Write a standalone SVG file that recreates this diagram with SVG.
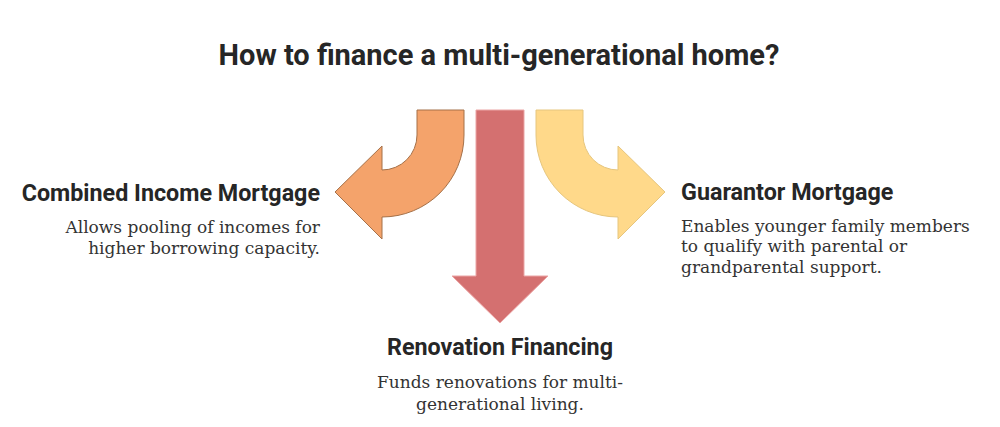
<svg xmlns="http://www.w3.org/2000/svg" width="1000" height="427" viewBox="0 0 1000 427">
<style>
.title{font-family:Roboto,"Liberation Sans",sans-serif;font-weight:700;font-size:29px;fill:#262626}
.h{font-family:Roboto,"Liberation Sans",sans-serif;font-weight:700;font-size:23.3px;fill:#262626}
.d{font-family:"DejaVu Serif","Liberation Serif",serif;font-size:17px;fill:#333333}
</style>
<rect width="1000" height="427" fill="#ffffff"/>
<text class="title" x="499" y="65" text-anchor="middle">How to finance a multi-generational home?</text>
<g id="connectors">
<path id="arrow-left" d="M464,110 L464,135 A82,82 0 0 1 382,217 L382,239 L335,192 L382,146 L382,170 A35,35 0 0 0 417,135 L417,110 Z" fill="#F4A36B" stroke="#A57149" stroke-width="1"/>
<path id="arrow-down" d="M476,110 L524,110 L524,276 L548,276 L500,323 L452,276 L476,276 Z" fill="#D47070" stroke="#EBA5A5" stroke-width="1"/>
<path id="arrow-right" d="M536,110 L536,135 A82,82 0 0 0 618,217 L618,239 L665,192 L618,146 L618,170 A35,35 0 0 1 583,135 L583,110 Z" fill="#FFD98A" stroke="#E6C67E" stroke-width="1"/>
</g>
<g id="node-combined">
<text class="h" x="320" y="201" text-anchor="end">Combined Income Mortgage</text>
<text class="d" x="320" y="233" text-anchor="end">Allows pooling of incomes for</text>
<text class="d" x="320" y="254" text-anchor="end">higher borrowing capacity.</text>
</g>
<g id="node-guarantor">
<text class="h" x="681" y="200">Guarantor Mortgage</text>
<text class="d" x="681" y="232">Enables younger family members</text>
<text class="d" x="681" y="252">to qualify with parental or</text>
<text class="d" x="681" y="273">grandparental support.</text>
</g>
<g id="node-renovation">
<text class="h" x="500" y="355" text-anchor="middle">Renovation Financing</text>
<text class="d" x="500" y="388" text-anchor="middle">Funds renovations for multi-</text>
<text class="d" x="500" y="410" text-anchor="middle">generational living.</text>
</g>
</svg>
